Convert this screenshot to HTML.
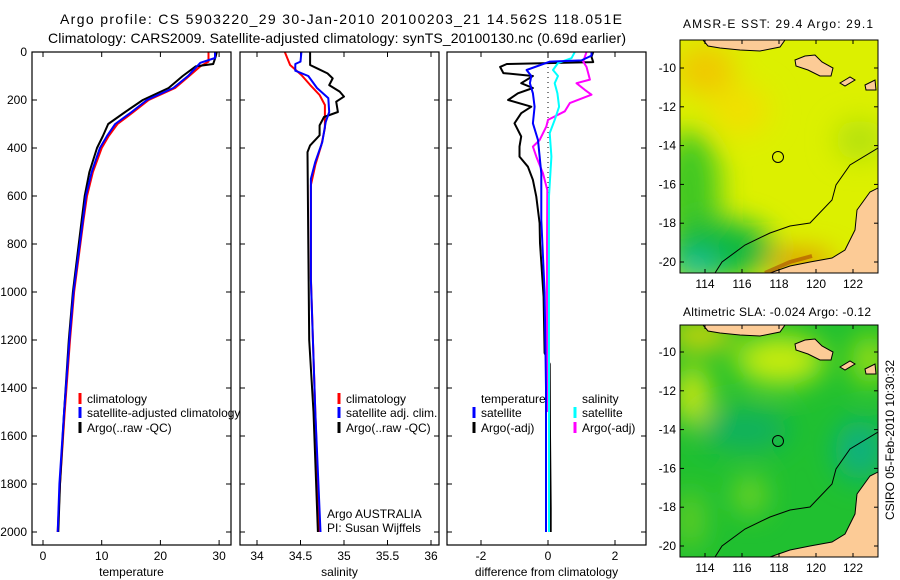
<!DOCTYPE html>
<html><head><meta charset="utf-8"><style>
body{margin:0;background:#fff;}
svg{display:block;font-family:"Liberation Sans",sans-serif;}
text{fill:#000;}
</style></head><body>
<svg id="c" width="900" height="580" viewBox="0 0 900 580">
<defs>
<filter id="bl" x="-50%" y="-50%" width="200%" height="200%"><feGaussianBlur stdDeviation="14"/></filter>
<clipPath id="m1"><rect x="680" y="40" width="198" height="233"/></clipPath>
<clipPath id="m2"><rect x="680" y="325" width="198" height="232"/></clipPath>
<clipPath id="p1"><rect x="32" y="52" width="199" height="493"/></clipPath>
<clipPath id="p2"><rect x="240" y="52" width="199" height="493"/></clipPath>
<clipPath id="p3"><rect x="447" y="52" width="199" height="493"/></clipPath>
</defs>
<text x="60" y="24" font-size="14" textLength="562" lengthAdjust="spacing">Argo profile: CS 5903220_29 30-Jan-2010 20100203_21 14.562S 118.051E</text>
<text x="48" y="43" font-size="14" textLength="578" lengthAdjust="spacing">Climatology: CARS2009. Satellite-adjusted climatology: synTS_20100130.nc (0.69d earlier)</text>
<g id="plots"></g>

<!-- Map 1 -->
<g>
<text x="683" y="28" font-size="12" textLength="190" lengthAdjust="spacing">AMSR-E SST: 29.4  Argo: 29.1</text>
<g clip-path="url(#m1)">
<rect x="680" y="40" width="198" height="233" fill="#dcf000"/>
<g filter="url(#bl)">
<ellipse cx="705" cy="70" rx="30" ry="25" fill="#f0c800"/>
<ellipse cx="740" cy="110" rx="30" ry="25" fill="#f0e000"/>
<ellipse cx="690" cy="190" rx="30" ry="60" fill="#40c820"/>
<ellipse cx="720" cy="250" rx="55" ry="30" fill="#10b840"/>
<ellipse cx="695" cy="268" rx="25" ry="15" fill="#20c0a0"/>
<ellipse cx="860" cy="140" rx="25" ry="20" fill="#b0e010"/>
<ellipse cx="800" cy="262" rx="35" ry="10" fill="#e08000"/>
</g>
<path d="M770,273 L790,266 L810,262 L832,258 L845,250 L855,230 L857,210 L870,192 L878,188 L878,273 Z" fill="#fccb96" stroke="#000" stroke-width="1"/>
<path d="M765,273 L790,262 L812,256" fill="none" stroke="#a03000" stroke-width="4" opacity="0.5"/>
<path d="M795,60 L805,56 L815,55 L822,62 L833,68 L831,76 L820,76 L808,70 L796,66 Z" fill="#fccb96" stroke="#000"/>
<path d="M703,40 L708,46 L720,48 L740,50 L760,51 L780,47 L785,40 Z" fill="#fccb96" stroke="#000"/>
<path d="M840,83 L850,77 L855,80 L845,86 Z M865,85 L875,80 L876,90 L866,90 Z" fill="#fccb96" stroke="#000"/>
<path d="M715,273 L722,262 L745,245 L770,233 L790,226 L810,223 L832,200 L836,185 L850,165 L878,148" fill="none" stroke="#000"/>
<circle cx="778" cy="157" r="5.5" fill="none" stroke="#000"/>
</g>
<rect x="680" y="40" width="198" height="233" fill="none" stroke="#000"/>
</g>

<!-- Map 2 -->
<g>
<text x="683" y="316" font-size="12" textLength="188" lengthAdjust="spacing">Altimetric SLA: -0.024  Argo: -0.12</text>
<g clip-path="url(#m2)">
<rect x="680" y="325" width="198" height="232" fill="#20c030"/>
<g filter="url(#bl)">
<ellipse cx="780" cy="360" rx="45" ry="25" fill="#c8ec10"/>
<ellipse cx="700" cy="335" rx="35" ry="14" fill="#e8d800"/>
<ellipse cx="692" cy="395" rx="18" ry="30" fill="#d0e810"/>
<ellipse cx="750" cy="495" rx="15" ry="18" fill="#80d820"/>
<ellipse cx="745" cy="430" rx="45" ry="20" fill="#10b060"/>
<ellipse cx="860" cy="450" rx="25" ry="30" fill="#10b080"/>
<ellipse cx="690" cy="520" rx="12" ry="30" fill="#70d020"/>
<ellipse cx="870" cy="360" rx="18" ry="25" fill="#a0e010"/>
</g>
<path d="M770,557 L790,550 L810,546 L832,542 L845,534 L855,514 L857,494 L870,476 L878,472 L878,557 Z" fill="#fccb96" stroke="#000"/>
<path d="M795,344 L805,340 L815,339 L822,346 L833,352 L831,360 L820,360 L808,354 L796,350 Z" fill="#fccb96" stroke="#000"/>
<path d="M703,325 L708,331 L720,333 L740,335 L760,336 L780,332 L785,325 Z" fill="#fccb96" stroke="#000"/>
<path d="M840,367 L850,361 L855,364 L845,370 Z M865,369 L875,364 L876,374 L866,374 Z" fill="#fccb96" stroke="#000"/>
<path d="M715,557 L722,546 L745,529 L770,517 L790,510 L810,507 L832,484 L836,469 L850,449 L878,432" fill="none" stroke="#000"/>
<circle cx="778" cy="441" r="5.5" fill="none" stroke="#000"/>
</g>
<rect x="680" y="325" width="198" height="232" fill="none" stroke="#000"/>
</g>
<g id="mapaxes"></g>
<text transform="translate(894,440) rotate(-90)" font-size="12" text-anchor="middle">CSIRO 05-Feb-2010 10:30:32</text>
</svg>
<script>
// ---- data ----
const tempClimDepth = [0,40,60,100,150,200,250,300,350,400,500,600,700,1000,1200,1500,1800,2000];
const tempClim      = [28.2,28.2,26.8,24.9,22.5,18.0,15.4,12.7,11.2,10.0,8.5,7.5,6.9,5.3,4.6,3.7,2.9,2.5];
const tempSatDepth  = [0,25,45,100,150,200,250,300,350,400,500,600,700,1000,1200,1500,1800,2000];
const tempSat       = [29.3,29.3,26.8,24.7,22.2,17.7,15.1,12.3,10.9,9.7,8.3,7.3,6.8,5.2,4.5,3.6,2.8,2.5];
const tempArgoDepth = [0,20,50,60,100,150,200,250,300,350,400,500,600,700,1000,1200,1500,1800,2000];
const tempArgo      = [29.6,29.4,29.0,26.0,23.8,21.4,17.0,14.0,11.1,10.2,9.2,7.9,7.1,6.6,5.1,4.4,3.6,2.9,2.6];

const salDepth     = [0,54,96,137,179,221,317,387,471,554,942,1500,2000];
const salClim      = [34.32,34.38,34.51,34.61,34.72,34.78,34.78,34.74,34.67,34.62,34.62,34.67,34.72];
const salSatDepth  = [0,40,50,78,100,150,192,250,292,375,458,528,950,1500,2000];
const salSat       = [34.51,34.50,34.44,34.44,34.59,34.69,34.82,34.83,34.79,34.75,34.67,34.62,34.62,34.67,34.73];
const salArgoDepth = [0,54,68,89,110,138,165,186,207,250,271,306,347,389,417,800,1200,1500,2000];
const salArgo      = [34.61,34.61,34.69,34.81,34.87,34.83,34.95,35.0,34.91,34.93,34.77,34.72,34.72,34.61,34.58,34.59,34.60,34.65,34.70];

const dTArgoDepth = [0,20,42,50,62,88,100,130,150,172,200,228,255,297,352,394,436,478,533,603,713,796,1020,1254,1300,1600,1900,2000];
const dTArgo      = [1.35,1.3,1.35,-1.23,-1.43,-1.33,-0.45,-0.8,-0.45,-0.9,-1.19,-0.5,-0.8,-1.0,-0.8,-0.85,-0.85,-0.6,-0.45,-0.35,-0.25,-0.24,-0.13,-0.1,0.05,0.06,0.08,0.08];
const dTSatDepth  = [0,15,35,40,75,100,130,172,228,297,367,506,700,1000,1400,2000];
const dTSat       = [1.3,1.3,1.0,0.06,-0.64,-0.5,-0.54,-0.45,-0.4,-0.45,-0.3,-0.2,-0.2,-0.1,-0.06,-0.06];
const dSSatDepth  = [0,26,46,75,100,130,172,228,283,338,436,600,1000,2000];
const dSSat       = [0.8,0.7,0.3,0.15,0.3,0.2,0.28,0.33,0.2,0.05,0.1,0.03,0.03,0.03];
const dSArgoDepth = [0,40,62,88,115,130,158,178,213,247,283,311,367,394,436,506,575,800,1500];
const dSArgo      = [1.15,1.05,1.15,1.2,1.25,0.85,1.1,1.3,0.65,0.5,0.0,-0.05,-0.25,-0.45,-0.35,-0.15,-0.02,-0.03,-0.03];

const depthTicks = [0,200,400,600,800,1000,1200,1400,1600,1800,2000];
const tTicks = [0,10,20,30];
const sTicks = [34,34.5,35,35.5,36];
const dTicks = [-2,0,2];
const lonTicks = [114,116,118,120,122];
const latTicks = [-10,-12,-14,-16,-18,-20];

// ---- axes ----
const TOP=52, BOT=545;
const yD = d => 52 + 0.24*d;
const xT = t => 43 + 5.87*t;
const xS = s => 257 + (s-34)*87;
const xDf = v => 548 + 33.5*v;
const xLon = l => 705 + 18.5*(l-114);
const yLat1 = l => 68 + 19.4*(-10-l);
const yLat2 = l => 352 + 19.4*(-10-l);

const NS='http://www.w3.org/2000/svg';
const root=document.getElementById('plots');
function mk(tag,attrs,parent){const e=document.createElementNS(NS,tag);for(const k in attrs)e.setAttribute(k,attrs[k]);(parent||root).appendChild(e);return e;}
function txt(x,y,s,size,anchor,parent){const e=mk('text',{x:x,y:y,'font-size':size,'text-anchor':anchor||'start'},parent);e.textContent=s;return e;}

function panel(x0,name,xf,ticks,fmt,title,showDepth,clip){
  const g=mk('g',{});
  
  
  const w=199;
  mk('rect',{x:x0,y:TOP,width:w,height:BOT-TOP,fill:'#fff',stroke:'none'},g);
  depthTicks.forEach(d=>{
    const y=yD(d);
    mk('line',{x1:x0,x2:x0+5,y1:y,y2:y,stroke:'#000'},g);
    mk('line',{x1:x0+w-5,x2:x0+w,y1:y,y2:y,stroke:'#000'},g);
    if(showDepth){const t=txt(x0-5,y+4,String(d),12,'end',g);
      
      }
  });
  ticks.forEach(v=>{
    const x=xf(v);
    mk('line',{x1:x,x2:x,y1:BOT,y2:BOT-5,stroke:'#000'},g);
    mk('line',{x1:x,x2:x,y1:TOP,y2:TOP+5,stroke:'#000'},g);
    const t=txt(x,560,fmt(v),12,'middle',g);
    
    
  });
  const tt=txt(x0+w/2,576,title,12,'middle',g);
  
  
  const cg=mk('g',{'clip-path':'url(#'+clip+')'},g);
  g._c=cg; g._x0=x0;
  return g;
}
function line(g,ds,vs,xf,color,name,w){
  const p=ds.map((d,i)=>(i?'L':'M')+xf(vs[i]).toFixed(1)+','+yD(d).toFixed(1)).join(' ');
  const e=mk('path',{d:p,fill:'none',stroke:color,'stroke-width':w||2,'stroke-linejoin':'round'},g._c);
  
  
}
function frame(g){mk('rect',{x:g._x0,y:TOP,width:199,height:BOT-TOP,fill:'none',stroke:'#000','stroke-width':1.2},g);}
function legend(g,x,y,color,label,name,clip){
  if(color) mk('line',{x1:x,x2:x,y1:y-10,y2:y+1,stroke:color,'stroke-width':3},g);
  const t=txt(x+7,y,label,12,'start',g);
  if(clip) t.setAttribute('clip-path','url(#'+clip+')');
  
  
}

const g1=panel(32,'temperature-panel',xT,tTicks,v=>String(v),'temperature',true,'p1');
line(g1,tempClimDepth,tempClim,xT,'#ff0000','temp-climatology-line');
line(g1,tempArgoDepth,tempArgo,xT,'#000','temp-argo-line');
line(g1,tempSatDepth,tempSat,xT,'#0000ff','temp-satellite-line');
legend(g1,80,403,'#ff0000','climatology','legend-climatology');
legend(g1,80,417,'#0000ff','satellite-adjusted climatology','legend-satellite');
legend(g1,80,432,'#000','Argo(..raw -QC)','legend-argo');
frame(g1);

const g2=panel(240,'salinity-panel',xS,sTicks,v=>String(v),'salinity',false,'p2');
line(g2,salDepth,salClim,xS,'#ff0000','sal-climatology-line');
line(g2,salArgoDepth,salArgo,xS,'#000','sal-argo-line');
line(g2,salSatDepth,salSat,xS,'#0000ff','sal-satellite-line');
legend(g2,339,403,'#ff0000','climatology','legend-climatology');
legend(g2,339,417,'#0000ff','satellite adj. clim.','legend-satellite');
legend(g2,339,432,'#000','Argo(..raw -QC)','legend-argo');
legend(g2,320,518,null,'Argo AUSTRALIA','float-owner-label');
legend(g2,320,532,null,'PI: Susan Wijffels','pi-label');
frame(g2);

const g3=panel(447,'difference-panel',xDf,dTicks,v=>String(v),'difference from climatology',false,'p3');
mk('line',{x1:xDf(0),x2:xDf(0),y1:TOP,y2:yD(800),stroke:'#000','stroke-dasharray':'1,4'},g3._c);
line(g3,dTArgoDepth,dTArgo,xDf,'#000','temp-argo-diff-line');
line(g3,dSArgoDepth,dSArgo,xDf,'#ff00ff','sal-argo-diff-line');
line(g3,dSSatDepth,dSSat,xDf,'#00ffff','sal-satellite-diff-line');
line(g3,dTSatDepth,dTSat,xDf,'#0000ff','temp-satellite-diff-line');
legend(g3,474,403,null,'temperature','legend-temperature-heading');
legend(g3,474,417,'#0000ff','satellite','legend-temp-satellite');
legend(g3,474,432,'#000','Argo(-adj)','legend-temp-argo');
legend(g3,575,403,null,'salinity','legend-salinity-heading');
legend(g3,575,417,'#00ffff','satellite','legend-sal-satellite');
legend(g3,575,432,'#ff00ff','Argo(-adj)','legend-sal-argo');
frame(g3);

// map axes
const ma=document.getElementById('mapaxes');
[[40,273,yLat1],[325,557,yLat2]].forEach(([t,b,yl])=>{
  lonTicks.forEach(l=>{const x=xLon(l);
    mk('line',{x1:x,x2:x,y1:b,y2:b-4,stroke:'#000'},ma);
    mk('line',{x1:x,x2:x,y1:t,y2:t+4,stroke:'#000'},ma);
    const e=txt(x,b+15,String(l),12,'middle',ma);
    
    });
  latTicks.forEach(l=>{const y=yl(l);
    mk('line',{x1:680,x2:684,y1:y,y2:y,stroke:'#000'},ma);
    mk('line',{x1:874,x2:878,y1:y,y2:y,stroke:'#000'},ma);
    const e=txt(676,y+4,String(l),12,'end',ma);
    
    });
});
</script>
</body></html>
